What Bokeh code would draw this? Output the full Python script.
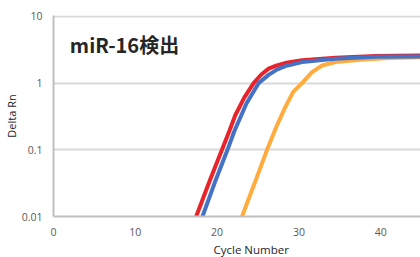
from bokeh.plotting import figure
from bokeh.models import FixedTicker, Label, Range1d, Title
from bokeh.embed import file_html
from bokeh.resources import INLINE

# Data
red_cycle = [16.5, 17.44, 19.0, 20.59, 21.52, 22.22, 23.3, 24.46, 25.4, 26.3, 27.3, 28.3, 30.4, 34.5, 39.4, 45.0]
red_delta = [0.005, 0.01, 0.032, 0.1, 0.195, 0.33, 0.6, 1.0, 1.35, 1.65, 1.85, 2.0, 2.2, 2.4, 2.55, 2.6]

blue_cycle = [17.3, 18.21, 19.7, 21.27, 22.1, 23.6, 25.07, 26.29, 27.3, 28.33, 30.38, 34.45, 39.35, 45.0]
blue_delta = [0.005, 0.01, 0.032, 0.1, 0.19, 0.5, 1.0, 1.33, 1.6, 1.8, 2.07, 2.32, 2.48, 2.52]

orange_cycle = [22.2, 23.04, 24.6, 26.1, 27.23, 28.3, 29.3, 30.38, 31.6, 32.83, 34.45, 37.5, 41.0, 45.0]
orange_delta = [0.0055, 0.01, 0.032, 0.1, 0.22, 0.43, 0.74, 1.0, 1.46, 1.84, 2.07, 2.25, 2.38, 2.45]

x_ticks = [0, 10, 20, 30, 40]
y_ticks = [0.01, 0.1, 1, 10]
y_tick_labels = ["0.01", "0.1", "1", "10"]
title_text = "miR-16検出"
x_label = "Cycle Number"
y_label = "Delta Rn"

FONT = "Open Sans"

p = figure(width=420, height=257, y_axis_type="log",
           x_range=Range1d(0, 44.86), y_range=Range1d(0.01, 10.35),
           output_backend="svg", toolbar_location=None,
           min_border_left=0, min_border_right=0, min_border_top=15, min_border_bottom=40)
p.outline_line_color = None
p.background_fill_color = "white"
p.border_fill_color = "white"

for xs, ys, c in [(orange_cycle, orange_delta, "#ffab3d"),
                  (red_cycle, red_delta, "#e8232a"),
                  (blue_cycle, blue_delta, "#4472c4")]:
    p.line(xs, ys, line_color=c, line_width=4)

p.xgrid.grid_line_color = None
p.ygrid.grid_line_color = "#d9d9d9"
p.ygrid.grid_line_width = 2
p.ygrid.ticker = FixedTicker(ticks=y_ticks)

p.xaxis.ticker = FixedTicker(ticks=x_ticks)
p.yaxis.ticker = FixedTicker(ticks=y_ticks)
p.yaxis.major_label_overrides = {t: l for t, l in zip(y_ticks, y_tick_labels)}

for ax in (p.xaxis, p.yaxis):
    ax.axis_line_color = "#bfbfbf"
    ax.axis_line_width = 2
    ax.major_tick_line_color = None
    ax.minor_tick_line_color = None
    ax.major_label_text_color = "#595959"
    ax.major_label_text_font = FONT
    ax.major_label_text_font_size = "10.5px"
    ax.axis_label_text_font = FONT
    ax.axis_label_text_font_size = "11px"
    ax.axis_label_text_font_style = "normal"
    ax.axis_label_text_color = "#262626"

p.xaxis.major_label_standoff = 5
p.yaxis.major_label_standoff = 5
p.yaxis.axis_label = y_label
p.yaxis.axis_label_standoff = 0

xt = Title(text=x_label, align="left", offset=160, standoff=2,
           text_font=FONT, text_font_size="11.5px", text_font_style="normal",
           text_color="#262626")
p.add_layout(xt, "below")

p.add_layout(Label(x=2.0, y=3.8, text=title_text, text_baseline="middle",
                   text_font="Noto Sans CJK JP", text_font_style="bold",
                   text_font_size="20px", text_color="#262626"))

open("out.html", "w").write(file_html(p, INLINE))
